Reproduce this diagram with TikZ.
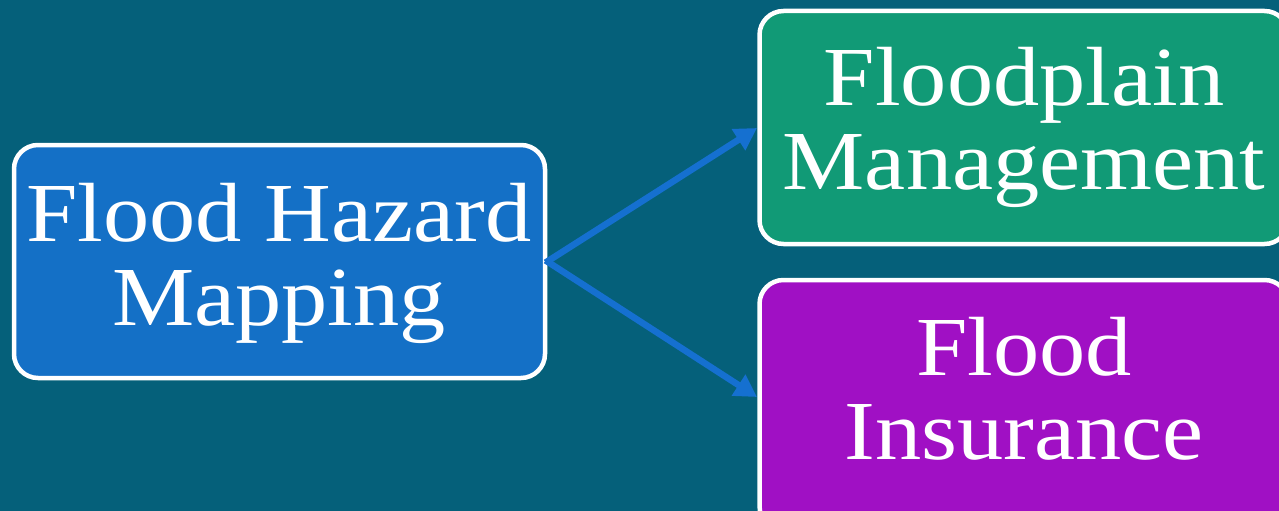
\documentclass[tikz,border=0pt]{standalone}
\usepackage{fontspec}
\setmainfont{Liberation Serif}[FakeStretch=1.1]
\definecolor{bgc}{HTML}{05607A}
\definecolor{bluebox}{HTML}{1470C6}
\definecolor{greenbox}{HTML}{119A76}
\definecolor{purplebox}{HTML}{A010C4}
\definecolor{arrowc}{HTML}{1570D0}
\tikzset{
  card/.style={draw=white, line width=4.5pt, rounded corners=24pt, inner sep=0pt},
  cardtext/.style={text=white, align=center, font=\fontsize{84}{84}\selectfont, inner sep=0pt},
  link/.style={draw=arrowc, line width=6.5pt, -{Triangle[length=22pt,width=24pt]}, shorten <=-2pt}
}
\usetikzlibrary{arrows.meta}
\begin{document}
\begin{tikzpicture}[x=1pt,y=-1pt]
\fill[bgc] (0,0) rectangle (1279,511);
\useasboundingbox (0,0) rectangle (1279,511);
\node[card, fill=bluebox, minimum width=531pt, minimum height=233pt] (haz) at (279.5,261.5) {};
\node[card, fill=greenbox, minimum width=529pt, minimum height=233pt] (fpm) at (1024,127.5) {};
\node[card, fill=purplebox, minimum width=529pt, minimum height=250pt] (ins) at (1024,405) {};
\node[cardtext] (hazt) at (279,263) {Flood Hazard\\Mapping};
\node[cardtext] (fpmt) at (1024,127) {Floodplain\\Management};
\node[cardtext] (inst) at (1024,389) {Flood\\Insurance};
\draw[link] (haz.east) -- (757,128);
\draw[link] (haz.east) -- (757,397);
\end{tikzpicture}
\end{document}
